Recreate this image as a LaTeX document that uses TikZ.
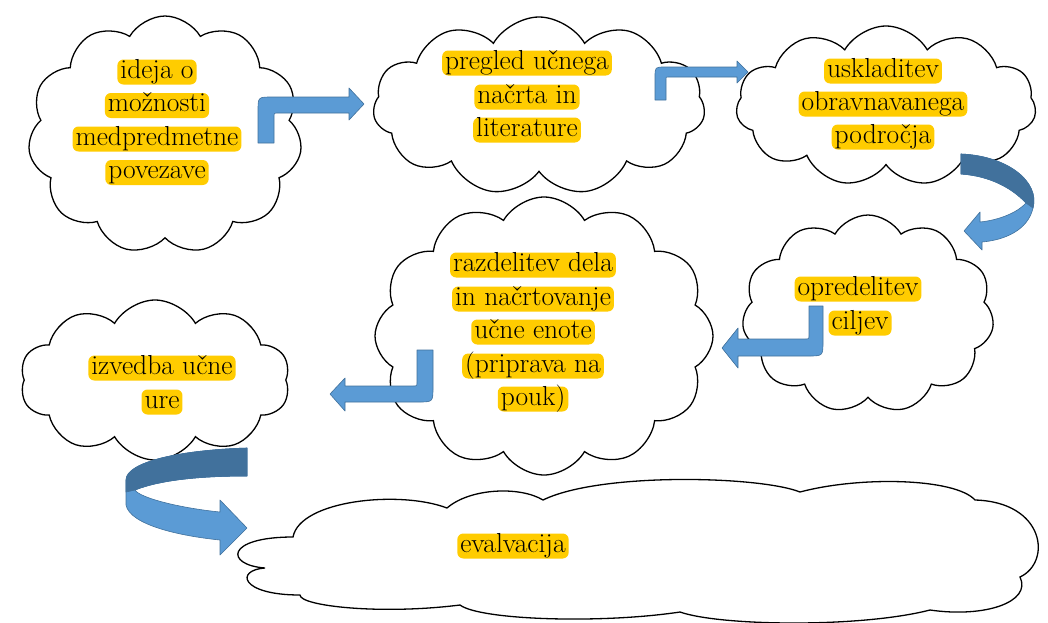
\documentclass[tikz,border=0pt]{standalone}
\usepackage{fontspec}
\usetikzlibrary{shapes.symbols}
\definecolor{hlyellow}{RGB}{255,204,0}
\definecolor{arrlight}{RGB}{91,155,213}
\definecolor{arrdark}{RGB}{65,113,156}
\definecolor{arredge}{RGB}{65,113,156}
\begin{document}
\begin{tikzpicture}[x=1pt,y=-1pt]
\tikzset{
  cloudn/.style={cloud, draw=black, line width=1.3pt, fill=white, cloud ignores aspect, inner sep=0pt, cloud puff arc=120},
  cloudpath/.style={draw=black, line width=1.3pt, fill=white},
  hl/.style={fill=hlyellow, rounded corners=6pt, inner xsep=3pt, inner ysep=1pt, text height=17.5pt, text depth=5.5pt, font=\fontsize{27.5}{33}\selectfont},
  barrow/.style={fill=arrlight, draw=arredge, line width=0.6pt, line join=round},
  darkpart/.style={fill=arrdark, draw=arredge, line width=0.6pt, line join=round}
}
\useasboundingbox (0,0) rectangle (1048,622);
% clouds
\node[cloudn, cloud puffs=11, minimum width=274pt, minimum height=238pt] (c1) at (165,135) {};
\node[cloudn, cloud puffs=11, minimum width=332pt, minimum height=178pt] (c2) at (539,106) {};
\node[cloudn, cloud puffs=11, minimum width=300pt, minimum height=160pt] (c3) at (886,106) {};
\node[cloudn, cloud puffs=11, minimum width=252pt, minimum height=198pt] (c4) at (868,314) {};
\node[cloudn, cloud puffs=12, minimum width=338pt, minimum height=278pt] (c5) at (544,336) {};
\node[cloudn, cloud puffs=10, minimum width=270pt, minimum height=160pt] (c6) at (155,380) {};
% cloud 7 (evalvacija), drawn as a path of puffs
\draw[cloudpath] (293,537)
  .. controls (300,500) and (400,490) .. (447,508)
  .. controls (470,488) and (520,486) .. (543,500)
  .. controls (600,472) and (760,476) .. (800,492)
  .. controls (860,476) and (955,478) .. (975,500)
  .. controls (1045,502) and (1052,562) .. (1020,577)
  .. controls (1032,602) and (985,618) .. (930,610)
  .. controls (860,628) and (720,626) .. (680,612)
  .. controls (600,624) and (480,620) .. (460,605)
  .. controls (380,615) and (300,606) .. (300,595)
  .. controls (240,595) and (235,570) .. (265,568)
  .. controls (225,565) and (225,537) .. (293,537) -- cycle;
\coordinate (c7) at (640,550);
% arrow 1
\draw[barrow] (258,143) -- (258,111) .. controls (258,97) .. (272,97) -- (349,97) -- (349,88) -- (364,104) -- (349,120) -- (349,113) -- (278,113) .. controls (274,113) .. (274,117) -- (274,143) -- cycle;
% arrow 2
\draw[barrow] (655,100) -- (655,77) .. controls (655,67) .. (665,67) -- (737,67) -- (737,61) -- (748,72) -- (737,83) -- (737,77) -- (668,77) .. controls (666,77) .. (666,79) -- (666,100) -- cycle;
% arrow 3 (curved)
\draw[barrow] (961,154) .. controls (1008,156) and (1040,182) .. (1033,208)
  .. controls (1028,230) and (1005,240) .. (982,242) -- (982,250) -- (964,231) -- (980,212) -- (980,222)
  .. controls (1000,220) and (1018,212) .. (1026,203)
  .. controls (1012,188) and (990,176) .. (961,174) -- cycle;
\draw[darkpart] (961,154) .. controls (1008,156) and (1040,182) .. (1033,208) -- (1026,203)
  .. controls (1012,188) and (990,176) .. (961,174) -- cycle;
% arrow 4
\draw[barrow] (809,306) -- (823,306) -- (823,341) .. controls (823,356) .. (808,356) -- (738,356) -- (738,368) -- (722,348) -- (738,328) -- (738,339) -- (805,339) .. controls (809,339) .. (809,335) -- cycle;
% arrow 5
\draw[barrow] (417,350) -- (433,350) -- (433,387) .. controls (433,402) .. (418,402) -- (345,402) -- (345,411) -- (330,394) -- (345,378) -- (345,386) -- (413,386) .. controls (417,386) .. (417,382) -- cycle;
% arrow 6 (U-turn)
\draw[barrow] (247,448) .. controls (180,450) and (126,462) .. (126,480) -- (126,505)
  .. controls (130,525) and (180,536) .. (220,540) -- (220,555) -- (247,528) -- (220,500) -- (220,512)
  .. controls (180,508) and (140,498) .. (135,490)
  .. controls (160,480) and (200,476) .. (247,476) -- cycle;
\draw[darkpart] (247,448) .. controls (180,450) and (126,462) .. (126,480) -- (126,492) -- (135,490)
  .. controls (160,480) and (200,476) .. (247,476) -- cycle;
% texts
\node[hl] (t1a) at (157,72) {ideja o};
\node[hl] (t1b) at (157,105.5) {možnosti};
\node[hl] (t1c) at (157,139) {medpredmetne};
\node[hl] (t1d) at (157,172.5) {povezave};
\node[hl] (t2a) at (527,63) {pregled učnega};
\node[hl] (t2b) at (527,97) {načrta in};
\node[hl] (t2c) at (527,130) {literature};
\node[hl] (t3a) at (883,71) {uskladitev};
\node[hl] (t3b) at (883,104) {obravnavanega};
\node[hl] (t3c) at (883,137) {področja};
\node[hl] (t4a) at (858,289) {opredelitev};
\node[hl] (t4b) at (860,323) {ciljev};
\node[hl] (t5a) at (533,265) {razdelitev dela};
\node[hl] (t5b) at (533,299) {in načrtovanje};
\node[hl] (t5c) at (533,332) {učne enote};
\node[hl] (t5d) at (533,366) {(priprava na};
\node[hl] (t5e) at (533,399) {pouk)};
\node[hl] (t6a) at (162,368) {izvedba učne};
\node[hl] (t6b) at (162,402) {ure};
\node[hl] (t7a) at (513,546) {evalvacija};
\end{tikzpicture}
\end{document}
